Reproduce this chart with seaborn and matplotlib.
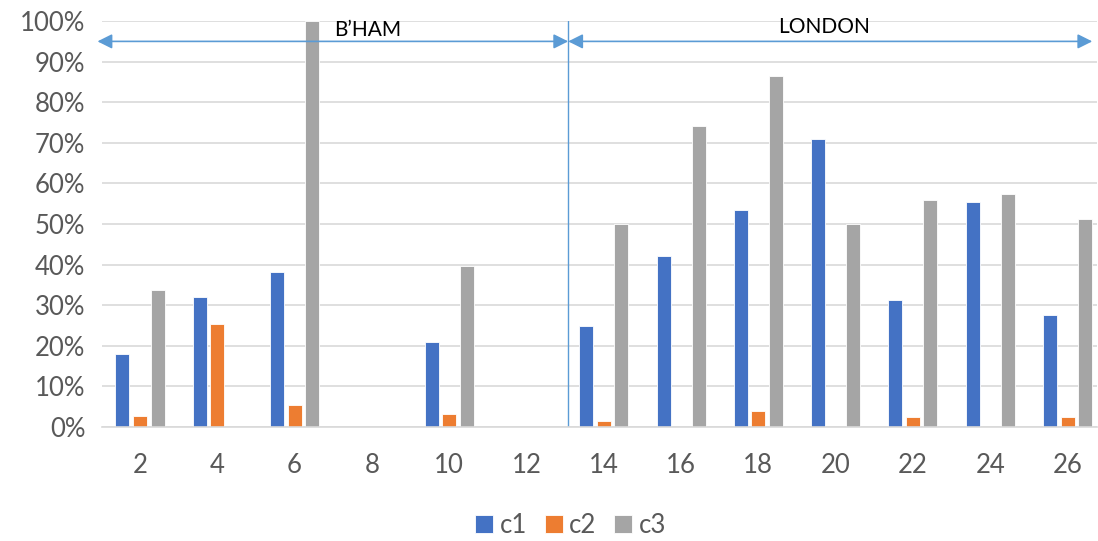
import matplotlib
matplotlib.use("Agg")
import matplotlib.pyplot as plt
import seaborn as sns
import pandas as pd
from matplotlib.ticker import PercentFormatter

categories = [2, 4, 6, 8, 10, 12, 14, 16, 18, 20, 22, 24, 26]
c1 = [18.0, 32.0, 38.2, 0, 20.9, 0, 24.9, 42.0, 53.4, 71.0, 31.3, 55.4, 27.6]
c2 = [2.7, 25.3, 5.4, 0, 3.2, 0, 1.5, 0, 3.9, 0, 2.4, 0, 2.4]
c3 = [33.7, 0, 100.0, 0, 39.7, 0, 50.0, 74.1, 86.5, 50.0, 55.8, 57.4, 51.2]
series_names = ["c1", "c2", "c3"]
region_labels = ["B\u2019HAM", "LONDON"]

rows = []
for name, vals in zip(series_names, [c1, c2, c3]):
    for cat, v in zip(categories, vals):
        rows.append({"cat": str(cat), "series": name, "value": v})
df = pd.DataFrame(rows)

sns.set_theme(style="white")
plt.rcParams["font.family"] = ["Lato", "DejaVu Sans"]

fig = plt.figure(figsize=(10.98, 5.41), dpi=100)
ax = fig.add_axes([0.093, 0.211, 0.906, 0.750])

palette = {"c1": "#4472C4", "c2": "#ED7D31", "c3": "#A5A5A5"}
sns.barplot(data=df, x="cat", y="value", hue="series", palette=palette,
            order=[str(c) for c in categories], hue_order=series_names,
            width=0.68, gap=0.2, ax=ax, saturation=1, legend=True,
            edgecolor="white", linewidth=0.6)

ax.set_ylim(0, 100)
ax.set_xlim(-0.49, 12.38)
ax.set_yticks(range(0, 101, 10))
ax.yaxis.set_major_formatter(PercentFormatter(decimals=0))
ax.grid(axis="y", color="#D9D9D9", linewidth=1.2)
ax.set_axisbelow(True)
for s in ["top", "right", "left"]:
    ax.spines[s].set_visible(False)
ax.spines["bottom"].set_color("#D9D9D9")
ax.spines["bottom"].set_linewidth(1.2)
ax.set_xlabel("")
ax.set_ylabel("")
ax.tick_params(axis="both", colors="#595959", labelsize=18.5, length=0)
ax.tick_params(axis="x", pad=19)
ax.tick_params(axis="y", pad=12)

# divider and arrows
ax.axvline(5.54, color="#5B9BD5", linewidth=1)
arrow_kw = dict(arrowstyle="<|-|>", color="#5B9BD5", lw=1.2, mutation_scale=22,
                shrinkA=0, shrinkB=0)
ax.annotate("", xy=(-0.55, 95), xytext=(5.54, 95), arrowprops=arrow_kw,
            annotation_clip=False)
ax.annotate("", xy=(5.54, 95), xytext=(12.32, 95), arrowprops=arrow_kw,
            annotation_clip=False)
ax.text(2.95, 97.8, region_labels[0], ha="center", va="center", fontsize=15,
        color="black")
ax.text(8.85, 98.6, region_labels[1], ha="center", va="center", fontsize=15,
        color="black")

leg = ax.legend(loc="upper center", bbox_to_anchor=(0.471, -0.155), ncol=3,
                frameon=False, fontsize=18.5, handlelength=0.7, handleheight=0.7,
                handletextpad=0.25, columnspacing=0.7)
for t in leg.get_texts():
    t.set_color("#595959")

fig.savefig("out.png", dpi=100)
